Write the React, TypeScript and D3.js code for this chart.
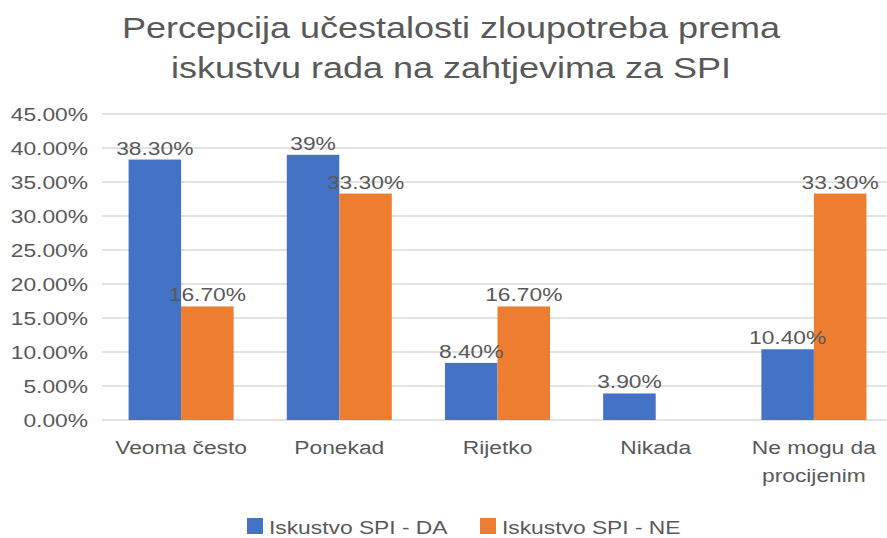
import React, { useEffect, useRef } from 'react';
import * as d3 from 'd3';

const categories: string[][] = [
    ['Veoma često'],
    ['Ponekad'],
    ['Rijetko'],
    ['Nikada'],
    ['Ne mogu da', 'procijenim'],
];
const seriesNames = ['Iskustvo SPI - DA', 'Iskustvo SPI - NE'];
const seriesColors = ['#4472C4', '#ED7D31'];
const valuesDA = [38.3, 39, 8.4, 3.9, 10.4];
const valuesNE = [16.7, 33.3, 16.7, 0, 33.3];
const labelsDA = ['38.30%', '39%', '8.40%', '3.90%', '10.40%'];
const labelsNE = ['16.70%', '33.30%', '16.70%', '', '33.30%'];
const yTicks = [0, 5, 10, 15, 20, 25, 30, 35, 40, 45];
const titleLines = [
    'Percepcija učestalosti zloupotreba prema',
    'iskustvu rada na zahtjevima za SPI',
];

const WIDTH = 887;
const HEIGHT = 538;
const TEXT = '#595959';
const FONT = "'Liberation Sans', Arial, sans-serif";
// the source picture is stretched sideways a bit
const SX = 1.2;

const App: React.FC = () => {
    const svgRef = useRef<SVGSVGElement | null>(null);

    useEffect(() => {
        if (svgRef.current) drawChart();
    }, []);

    const drawChart = () => {
        const svg = d3.select(svgRef.current);
        svg.selectAll('*').remove();

        const left = 102;
        const right = 893;
        const top = 114;
        const bottom = 420;

        const x = d3
            .scaleBand<number>()
            .domain(d3.range(categories.length))
            .range([left, right])
            .paddingInner(0.336)
            .paddingOuter(0.168);
        const xs = d3
            .scaleBand<number>()
            .domain([0, 1])
            .range([0, x.bandwidth()]);
        const y = d3.scaleLinear().domain([0, 45]).range([bottom, top]);
        const fmt = d3.format('.2f');

        const addText = (
            g: d3.Selection<any, any, any, any>,
            tx: number,
            ty: number,
            txt: string,
            size: number,
            anchor = 'middle'
        ) =>
            g
                .append('text')
                .attr('transform', `translate(${tx},${ty}) scale(${SX},1)`)
                .attr('text-anchor', anchor)
                .style('font-family', FONT)
                .style('font-size', `${size}px`)
                .style('fill', TEXT)
                .text(txt);

        // title
        titleLines.forEach((t, i) => addText(svg, 451, 38 + i * 40, t, 30));

        // grid + y labels
        const grid = svg.append('g');
        yTicks.forEach((t) => {
            grid.append('line')
                .attr('x1', left)
                .attr('x2', WIDTH)
                .attr('y1', y(t))
                .attr('y2', y(t))
                .style('stroke', '#D9D9D9')
                .style('stroke-width', 1.3);
            addText(grid, 88, y(t) + 7, `${fmt(t)}%`, 19, 'end');
        });

        // bars
        const series = [valuesDA, valuesNE];
        const labels = [labelsDA, labelsNE];
        series.forEach((vals, s) => {
            const g = svg.append('g');
            g.selectAll('rect')
                .data(vals)
                .enter()
                .append('rect')
                .attr('x', (_, i) => (x(i) as number) + (xs(s) as number))
                .attr('width', xs.bandwidth())
                .attr('y', (d) => y(d))
                .attr('height', (d) => bottom - y(d))
                .style('fill', seriesColors[s]);
        });
        series.forEach((vals, s) => {
            const g = svg.append('g');
            vals.forEach((v, i) => {
                if (!labels[s][i]) return;
                addText(
                    g,
                    (x(i) as number) + (xs(s) as number) + xs.bandwidth() / 2,
                    y(v) - 5,
                    labels[s][i],
                    19
                );
            });
        });

        // category labels
        const xg = svg.append('g');
        categories.forEach((lines, i) => {
            lines.forEach((ln, j) =>
                addText(
                    xg,
                    (x(i) as number) + x.bandwidth() / 2,
                    454 + j * 28,
                    ln,
                    19
                )
            );
        });

        // legend
        const legendX = [247, 480];
        const lg = svg.append('g');
        seriesNames.forEach((name, s) => {
            lg.append('rect')
                .attr('x', legendX[s])
                .attr('y', 518)
                .attr('width', 16)
                .attr('height', 16)
                .style('fill', seriesColors[s]);
            addText(lg, legendX[s] + 22, 534, name, 19, 'start');
        });
    };

    return (
        <svg
            ref={svgRef}
            width={WIDTH}
            height={HEIGHT}
            style={{ position: 'absolute', left: 0, top: 0, background: '#fff' }}
        ></svg>
    );
};

export default App;
